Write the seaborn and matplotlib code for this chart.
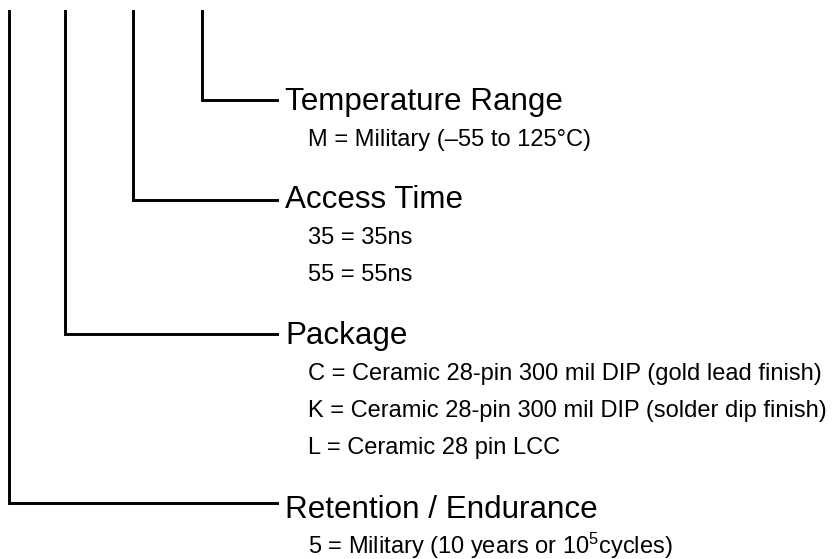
import matplotlib
matplotlib.use("Agg")
import matplotlib.pyplot as plt
import seaborn as sns
import pandas as pd

# ---- content ----
headings = ["Temperature Range", "Access Time", "Package", "Retention / Endurance"]
options = [
    ["M = Military (–55 to 125°C)"],
    ["35 = 35ns", "55 = 55ns"],
    ["C = Ceramic 28-pin 300 mil DIP (gold lead finish)",
     "K = Ceramic 28-pin 300 mil DIP (solder dip finish)",
     "L = Ceramic 28 pin LCC"],
    [r"5 = Military (10 years or $\mathregular{10^5}$cycles)"],
]

# ---- layout (pixel coordinates) ----
stem_x = [202, 133, 65, 9]          # vertical connector x for each heading
elbow_y = [100, 200, 334, 503]      # horizontal connector y
heading_base = [110, 208, 344, 518] # heading text baselines
top_y = 11
line_end_x = 277
heading_x = 285
option_x = 308
option_gap = 37
first_option_offset = 36

sns.set_theme(style="white")
plt.rcParams["font.family"] = ["Liberation Sans", "DejaVu Sans"]

fig = plt.figure(figsize=(8.35, 5.59), dpi=100)
ax = fig.add_axes([0, 0, 1, 1])

rows = []
for i, (sx, ey) in enumerate(zip(stem_x, elbow_y)):
    for k, (px, py) in enumerate([(sx, top_y), (sx, ey), (line_end_x, ey)]):
        rows.append({"connector": i, "order": k, "x": px, "y": py})
paths = pd.DataFrame(rows)

sns.lineplot(data=paths, x="x", y="y", units="connector", estimator=None,
             sort=False, color="black", linewidth=2.1, ax=ax, legend=False,
             solid_joinstyle="miter", solid_capstyle="projecting")

for h, hb, opts in zip(headings, heading_base, options):
    ax.text(heading_x, hb, h, fontsize=22.6, va="baseline", ha="left", color="black")
    for j, o in enumerate(opts):
        ax.text(option_x, hb + first_option_offset + j * option_gap, o,
                fontsize=17.0, va="baseline", ha="left", color="black")

ax.set_xlim(0, 835)
ax.set_ylim(559, 0)
ax.axis("off")
fig.savefig("out.png", dpi=100, facecolor="white")
